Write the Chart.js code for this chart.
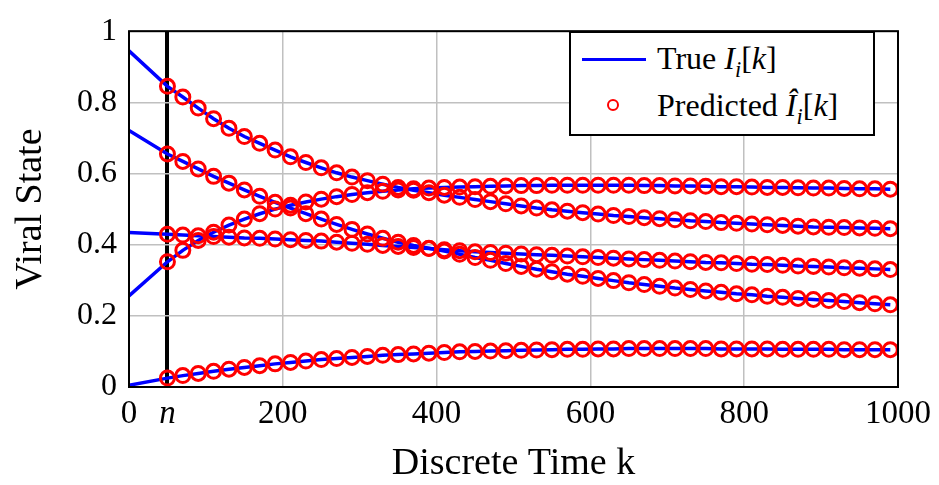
<!DOCTYPE html>
<html>
<head>
<meta charset="utf-8">
<script src="https://cdn.jsdelivr.net/npm/chart.js@4.4.1/dist/chart.umd.min.js"></script>
<style>
  html, body { margin: 0; padding: 0; background: #fff; }
  #wrap { position: relative; width: 939px; height: 485px; }
  #legend {
    position: absolute; left: 569px; top: 31px; width: 302px; height: 101px;
    border: 2px solid #000; background: #fff;
    font-family: "Liberation Serif", serif; font-size: 32px; color: #000;
  }
  #legend .row { position: absolute; left: 86px; white-space: nowrap; line-height: 1; }
  #legend .lineSample { position: absolute; left: 11px; top: 25px; width: 64px; height: 3px; background: #0000ff; }
  #legend .dotSample { position: absolute; left: 36px; top: 66px; width: 8px; height: 8px; border: 2.5px solid #ff0000; border-radius: 50%; }
  #legend .sub { font-size: 0.7em; position: relative; top: 0.35em; }
</style>
</head>
<body>
<div id="wrap">
  <canvas id="chart" width="939" height="485"></canvas>
  <div id="legend">
    <div class="lineSample"></div>
    <div class="row" style="top:9px">True <i>I</i><span class="sub"><i>i</i></span>[<i>k</i>]</div>
    <div class="dotSample"></div>
    <div class="row" style="top:56px">Predicted <i>Î</i><span class="sub"><i>i</i></span>[<i>k</i>]</div>
  </div>
</div>
<script>
// time steps where the predicted circles sit (first one is n)
const kMarkers = [
  50, 70, 90, 110, 130, 150, 170, 190, 210, 230, 250, 270,
  290, 310, 330, 350, 370, 390, 410, 430, 450, 470, 490, 510,
  530, 550, 570, 590, 610, 630, 650, 670, 690, 710, 730, 750,
  770, 790, 810, 830, 850, 870, 890, 910, 930, 950, 970, 990
];

// value of each node at k = 0 (start of the true curves)
const startValues = [0.945, 0.721, 0.434, 0.256, 0.005];

const node1 = [
  0.845, 0.815, 0.784, 0.754, 0.727, 0.704, 0.685, 0.666, 0.647, 0.631, 0.616, 0.602,
  0.590, 0.580, 0.570, 0.561, 0.553, 0.546, 0.539, 0.533, 0.527, 0.521, 0.515, 0.509,
  0.503, 0.498, 0.494, 0.490, 0.486, 0.482, 0.479, 0.476, 0.473, 0.470, 0.467, 0.465,
  0.462, 0.460, 0.458, 0.456, 0.454, 0.452, 0.450, 0.449, 0.448, 0.447, 0.446, 0.445
];
const node2 = [
  0.655, 0.634, 0.613, 0.592, 0.573, 0.554, 0.536, 0.519, 0.503, 0.487, 0.472, 0.457,
  0.443, 0.430, 0.418, 0.407, 0.398, 0.390, 0.382, 0.373, 0.364, 0.356, 0.347, 0.339,
  0.331, 0.324, 0.317, 0.311, 0.305, 0.299, 0.293, 0.288, 0.283, 0.278, 0.274, 0.270,
  0.266, 0.262, 0.259, 0.255, 0.252, 0.249, 0.246, 0.243, 0.240, 0.237, 0.234, 0.231
];
const node3 = [
  0.429, 0.427, 0.425, 0.423, 0.421, 0.419, 0.418, 0.416, 0.414, 0.412, 0.410, 0.407,
  0.404, 0.401, 0.398, 0.395, 0.392, 0.389, 0.386, 0.383, 0.380, 0.378, 0.376, 0.374,
  0.372, 0.370, 0.368, 0.366, 0.364, 0.362, 0.360, 0.358, 0.356, 0.354, 0.352, 0.350,
  0.349, 0.347, 0.345, 0.344, 0.342, 0.340, 0.339, 0.337, 0.335, 0.334, 0.332, 0.330
];
const node4 = [
  0.352, 0.384, 0.412, 0.435, 0.455, 0.472, 0.487, 0.500, 0.511, 0.520, 0.528, 0.535,
  0.541, 0.546, 0.550, 0.554, 0.557, 0.559, 0.561, 0.562, 0.563, 0.564, 0.565, 0.566,
  0.566, 0.567, 0.567, 0.567, 0.567, 0.567, 0.567, 0.566, 0.566, 0.565, 0.565, 0.564,
  0.563, 0.563, 0.562, 0.561, 0.561, 0.560, 0.559, 0.559, 0.558, 0.557, 0.557, 0.556
];
const node5 = [
  0.025, 0.032, 0.038, 0.044, 0.050, 0.055, 0.060, 0.065, 0.069, 0.073, 0.077, 0.080,
  0.083, 0.086, 0.089, 0.091, 0.093, 0.095, 0.097, 0.099, 0.100, 0.101, 0.102, 0.103,
  0.104, 0.105, 0.106, 0.106, 0.107, 0.107, 0.108, 0.108, 0.108, 0.108, 0.108, 0.108,
  0.107, 0.107, 0.107, 0.107, 0.106, 0.106, 0.106, 0.106, 0.105, 0.105, 0.105, 0.105
];
const nodes = [node1, node2, node3, node4, node5];

const nStep = 50;
const xTickValues = [0, 50, 200, 400, 600, 800, 1000];
const xTickLabels = ['0', 'n', '200', '400', '600', '800', '1000'];
const yTickValues = [0, 0.2, 0.4, 0.6, 0.8, 1];
const yTickLabels = ['0', '0.2', '0.4', '0.6', '0.8', '1'];

const SERIF = '"Liberation Serif", "DejaVu Serif", serif';

const datasets = [];
nodes.forEach((vals, i) => {
    // circles on top of the lines
    datasets.push({
        label: 'Predicted',
        data: kMarkers.map((k, j) => ({ x: k, y: vals[j] })),
        showLine: false,
        pointStyle: 'circle',
        pointRadius: 7,
        pointBorderWidth: 3,
        pointBorderColor: '#ff0000',
        pointBackgroundColor: 'rgba(0,0,0,0)',
        order: 0
    });
    datasets.push({
        label: 'True',
        data: [{ x: 0, y: startValues[i] }].concat(kMarkers.map((k, j) => ({ x: k, y: vals[j] }))),
        borderColor: '#0000ff',
        borderWidth: 3.5,
        pointRadius: 0,
        fill: false,
        tension: 0,
        order: 1
    });
});

// black frame around the plot area, like pgfplots
const framePlugin = {
    id: 'frame',
    afterDraw(chart) {
        const { ctx, chartArea: a } = chart;
        ctx.save();
        ctx.strokeStyle = '#000';
        ctx.lineWidth = 2;
        ctx.strokeRect(a.left, a.top, a.right - a.left, a.bottom - a.top);
        ctx.restore();
    }
};

new Chart(document.getElementById('chart').getContext('2d'), {
    type: 'line',
    data: { datasets },
    options: {
        responsive: false,
        animation: false,
        layout: { padding: { top: 19, right: 40, left: 0, bottom: 0 } },
        plugins: { legend: { display: false }, tooltip: { enabled: false } },
        scales: {
            x: {
                type: 'linear',
                min: 0,
                max: 1000,
                afterBuildTicks: s => { s.ticks = xTickValues.map(v => ({ value: v })); },
                afterFit: s => { s.height = 98; },
                border: { display: false },
                grid: {
                    drawTicks: false,
                    color: c => (c.tick && c.tick.value === nStep) ? '#000' : '#c0c0c0',
                    lineWidth: c => (c.tick && c.tick.value === nStep) ? 4 : 1.5
                },
                ticks: {
                    autoSkip: false,
                    maxRotation: 0,
                    padding: 8,
                    color: '#000',
                    font: c => ({ family: SERIF, size: 33, style: (c.tick && c.tick.value === nStep) ? 'italic' : 'normal' }),
                    callback: (v, i) => xTickLabels[i]
                },
                title: {
                    display: true,
                    text: 'Discrete Time k',
                    color: '#000',
                    font: { family: SERIF, size: 38 },
                    padding: { top: 0, bottom: -2 }
                }
            },
            y: {
                min: 0,
                max: 1,
                afterBuildTicks: s => { s.ticks = yTickValues.map(v => ({ value: v })); },
                afterFit: s => { s.width = 129; },
                border: { display: false },
                grid: { drawTicks: false, color: '#c0c0c0', lineWidth: 1.5 },
                ticks: {
                    padding: 12,
                    color: '#000',
                    font: { family: SERIF, size: 32 },
                    callback: (v, i) => yTickLabels[i]
                },
                title: {
                    display: true,
                    text: 'Viral State',
                    color: '#000',
                    font: { family: SERIF, size: 38 },
                    padding: { top: 8, bottom: 0 }
                }
            }
        }
    },
    plugins: [framePlugin]
});
</script>
</body>
</html>
